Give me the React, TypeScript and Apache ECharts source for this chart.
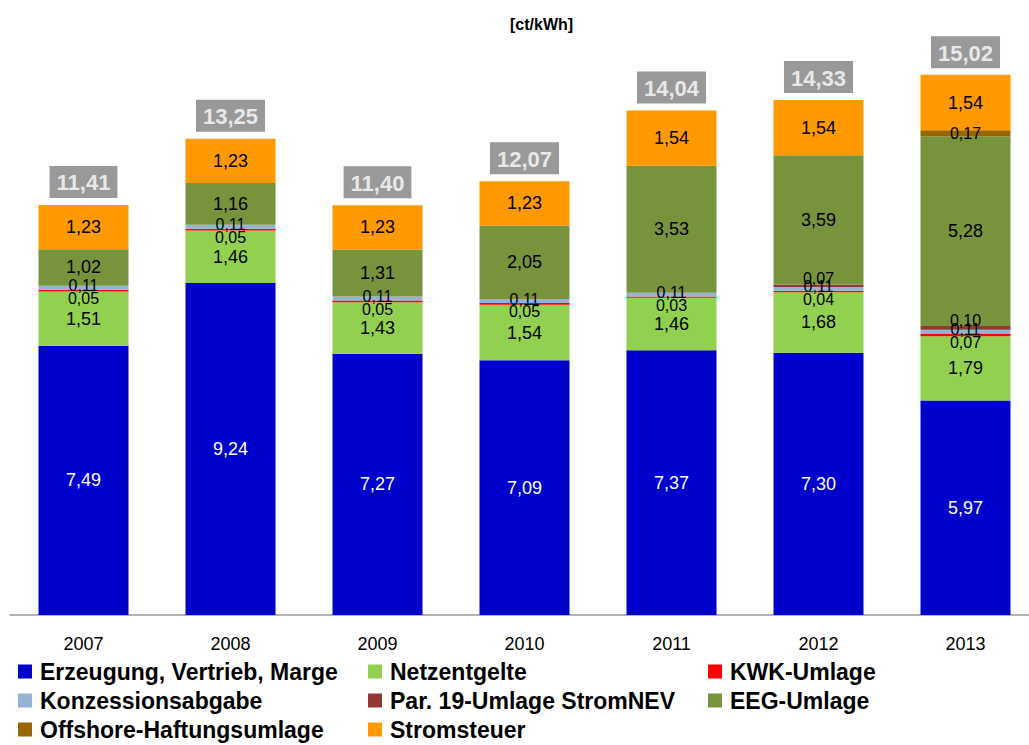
import React, { useEffect, useRef } from "react";
import * as echarts from "echarts";

const years = ["2007", "2008", "2009", "2010", "2011", "2012", "2013"];
const erzeugung = [7.49, 9.24, 7.27, 7.09, 7.37, 7.3, 5.97];
const netzentgelte = [1.51, 1.46, 1.43, 1.54, 1.46, 1.68, 1.79];
const kwk = [0.05, 0.05, 0.05, 0.05, 0.03, 0.04, 0.07];
const konzession = [0.11, 0.11, 0.11, 0.11, 0.11, 0.11, 0.11];
const par19 = [0, 0, 0, 0, 0, 0.07, 0.1];
const eeg = [1.02, 1.16, 1.31, 2.05, 3.53, 3.59, 5.28];
const offshore = [0, 0, 0, 0, 0, 0, 0.17];
const stromsteuer = [1.23, 1.23, 1.23, 1.23, 1.54, 1.54, 1.54];
const totals = [11.41, 13.25, 11.4, 12.07, 14.04, 14.33, 15.02];

const names = [
  "Erzeugung, Vertrieb, Marge",
  "Netzentgelte",
  "KWK-Umlage",
  "Konzessionsabgabe",
  "Par. 19-Umlage StromNEV",
  "EEG-Umlage",
  "Offshore-Haftungsumlage",
  "Stromsteuer",
];
const values = [erzeugung, netzentgelte, kwk, konzession, par19, eeg, offshore, stromsteuer];
const colors = ["#0000CC", "#92D050", "#FF0000", "#95B3D7", "#953735", "#77933C", "#996600", "#FF9900"];
const labelColors = ["#FFFFFF", "#000", "#000", "#000", "#000", "#000", "#000", "#000"];
const labelSizes = [18, 18, 16, 16, 16, 18, 16, 18];
const labelOffsets = [[0, 0], [0, 0], [0, 8], [0, -2], [0, -7], [0, 0], [0, 0], [0, 0]];

const fmt = (v: number) => v.toFixed(2).replace(".", ",");

const legendPos: Array<[number, number]> = [
  [18, 660],
  [368, 660],
  [708, 660],
  [18, 689],
  [368, 689],
  [708, 689],
  [18, 718],
  [368, 718],
];

export default function App() {
  const ref = useRef<HTMLDivElement>(null);
  useEffect(() => {
    if (!ref.current) return;
    const chart = echarts.init(ref.current, undefined, { renderer: "svg" });
    const font = "'Liberation Sans', Arial, sans-serif";
    const series: any[] = names.map((n, i) => ({
      name: n,
      type: "bar",
      stack: "total",
      barWidth: 90,
      itemStyle: { color: colors[i] },
      label: {
        show: true,
        position: "inside",
        color: labelColors[i],
        fontSize: labelSizes[i],
        fontFamily: font,
        offset: labelOffsets[i],
        formatter: (p: any) => (p.value > 0 ? fmt(p.value) : ""),
      },
      data: values[i].map((v) => (v > 0 ? v : null)),
    }));
    series.push({
      name: "Summe",
      type: "scatter",
      symbolSize: 0,
      silent: true,
      data: totals,
      label: {
        show: true,
        position: "top",
        distance: 7,
        color: "#FFFFFF",
        fontSize: 22,
        fontWeight: "bold",
        fontFamily: font,
        backgroundColor: "#808080",
        padding: [6, 7, 4, 7],
        formatter: (p: any) => fmt(p.value),
      },
    });
    chart.setOption({
      animation: false,
      textStyle: { fontFamily: font },
      graphic: [
        {
          type: "text",
          left: 510,
          top: 16,
          style: { text: "[ct/kWh]", fontSize: 16, fontWeight: "bold", fill: "#000", fontFamily: font },
        },
      ],
      legend: names.map((n, i) => ({
        data: [n],
        left: legendPos[i][0],
        top: legendPos[i][1],
        padding: 0,
        icon: "rect",
        itemWidth: 14,
        itemHeight: 14,
        selectedMode: false,
        textStyle: { fontSize: 23, fontWeight: "bold", color: "#000", fontFamily: font, padding: [0, 0, 0, 3] },
      })),
      grid: { left: 10, top: 40, width: 1029, height: 575, outerBoundsMode: "none" },
      xAxis: {
        type: "category",
        data: years,
        axisLine: { lineStyle: { color: "#999999", width: 1.5 } },
        axisTick: { length: 6, lineStyle: { color: "#999999" } },
        axisLabel: { fontSize: 18, color: "#000", margin: 20, fontFamily: font },
      },
      yAxis: { type: "value", min: 0, max: 16, show: false, splitLine: { show: false } },
      series,
    });
    return () => chart.dispose();
  }, []);
  return (
    <div
      ref={ref}
      style={{ position: "fixed", left: 0, top: 0, width: 1029, height: 745, background: "#fff" }}
    />
  );
}
